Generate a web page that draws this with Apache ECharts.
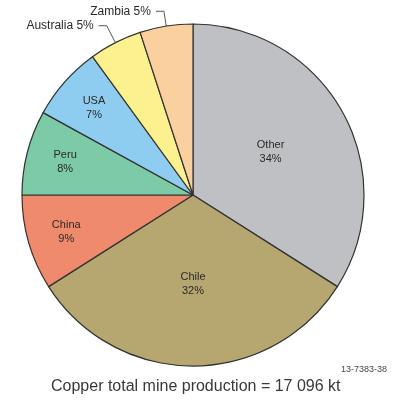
<!DOCTYPE html>
<html><head><meta charset="utf-8">
<script src="https://cdn.jsdelivr.net/npm/echarts@6/dist/echarts.min.js"></script>
<style>html,body{margin:0;padding:0;background:#fff}#c{width:404px;height:401px}</style>
</head><body><div id="c"></div>
<script>
var categories = ['Other', 'Chile', 'China', 'Peru', 'USA', 'Australia', 'Zambia'];
var shares = [34, 32, 9, 8, 7, 5, 5];
var colors = ['#bfc0c3', '#b6a66f', '#ef8a6c', '#7dcaa6', '#8fcdf0', '#fbf28f', '#fbd09f'];
var insideNear = ['Other', 'Chile'];
var insideFar = ['China', 'Peru', 'USA'];
var outside = ['Australia', 'Zambia'];
var titleText = 'Copper total mine production = 17 096 kt';
var codeText = '13-7383-38';

var font = 'Liberation Sans, Arial, sans-serif';
var mainData = categories.map(function (c, i) {
  var item = { name: c, value: shares[i], itemStyle: { color: colors[i] } };
  if (insideNear.indexOf(c) >= 0) {
    item.label = { show: true, position: 'inside', formatter: '{b}\n{c}%' };
  } else if (outside.indexOf(c) >= 0) {
    item.label = { show: true, position: 'outside', formatter: '{b} {c}%', fontSize: 12 };
    item.labelLine = { show: true, length: c === 'Australia' ? 19 : 15, length2: 8 };
  } else {
    item.label = { show: false };
  }
  return item;
});
var overlayData = categories.map(function (c, i) {
  return { name: c, value: shares[i], label: { show: insideFar.indexOf(c) >= 0 } };
});

var chart = echarts.init(document.getElementById('c'));
chart.setOption({
  animation: false,
  title: [
    { text: titleText, left: 46, bottom: 1,
      textStyle: { fontFamily: font, fontSize: 16, fontWeight: 'normal', color: '#383838' } },
    { text: codeText, right: 12, top: 360,
      textStyle: { fontFamily: font, fontSize: 9, fontWeight: 'normal', color: '#444' } }
  ],
  series: [
    {
      type: 'pie', center: [193, 195], radius: [0, 171], startAngle: 90, clockwise: true,
      avoidLabelOverlap: false, silent: true,
      itemStyle: { borderColor: '#333', borderWidth: 1.2 },
      label: { fontFamily: font, fontSize: 11, color: '#2a2a2a', lineHeight: 14 },
      labelLine: { lineStyle: { color: '#555', width: 1 } },
      data: mainData
    },
    {
      type: 'pie', center: [193, 195], radius: [0, 258], startAngle: 90, clockwise: true,
      avoidLabelOverlap: false, silent: true, z: 3,
      itemStyle: { color: 'rgba(0,0,0,0)', borderWidth: 0 },
      label: { position: 'inside', formatter: '{b}\n{c}%', fontFamily: font, fontSize: 11, color: '#2a2a2a', lineHeight: 14 },
      labelLine: { show: false },
      data: overlayData
    }
  ]
});
</script></body></html>
